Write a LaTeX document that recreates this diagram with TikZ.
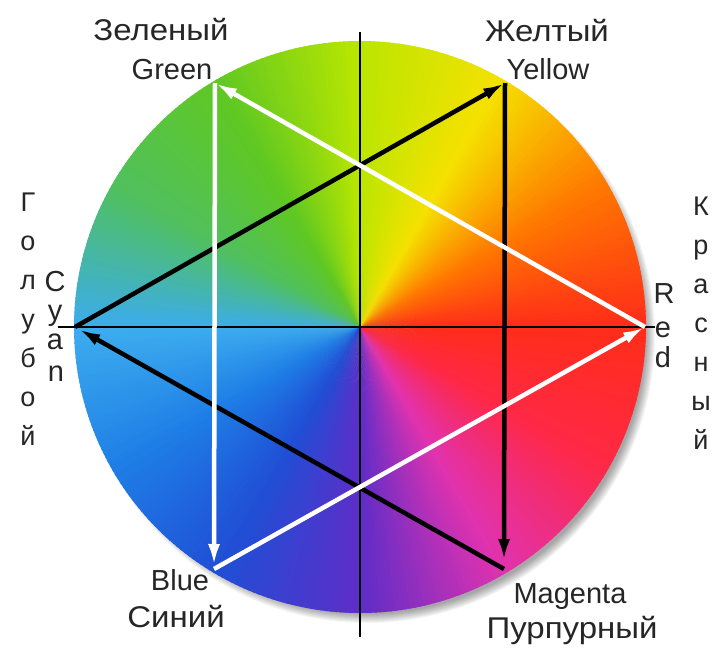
\documentclass[tikz,border=0pt]{standalone}
\usepackage{fontspec}
\setmainfont{Liberation Sans}
\newfontfamily\rufont[FakeStretch=1.1]{Liberation Sans}
\usetikzlibrary{arrows.meta}
\definecolor{w0}{RGB}{255,45,25}
\definecolor{w1}{RGB}{255,120,0}
\definecolor{w2}{RGB}{245,225,0}
\definecolor{w3}{RGB}{185,230,0}
\definecolor{w4}{RGB}{95,200,35}
\definecolor{w5}{RGB}{80,192,95}
\definecolor{w6}{RGB}{60,172,238}
\definecolor{w7}{RGB}{30,125,230}
\definecolor{w8}{RGB}{32,78,213}
\definecolor{w9}{RGB}{95,45,200}
\definecolor{w10}{RGB}{225,50,175}
\definecolor{w11}{RGB}{255,40,70}
\definecolor{w12}{RGB}{255,45,25}
\tikzset{
  ru/.style={font=\rufont\fontsize{30}{30}\selectfont, inner sep=0pt, anchor=base, text=black!85},
  en/.style={font=\fontsize{29}{29}\selectfont, inner sep=0pt, anchor=base, text=black!85},
  vl/.style={font=\fontsize{27}{27}\selectfont, inner sep=0pt, anchor=base, text=black!85},
  ve/.style={font=\fontsize{29}{29}\selectfont, inner sep=0pt, anchor=base, text=black!85},
  axis/.style={black, line width=1.6pt},
  blackarrow/.style={black, line width=4.5pt, -{Latex[length=22pt,width=12pt]}},
  whitearrow/.style={white, line width=4.5pt, -{Latex[length=22pt,width=12pt]}},
}
\begin{document}
\begin{tikzpicture}[x=1pt,y=-1pt]
\useasboundingbox[fill=white] (0,0) rectangle (715,648);
% shadow
\foreach \i in {0,...,9} {
  \fill[black,opacity=0.04] (367,335) circle[radius=279+\i];
}
% colour wheel
\coordinate (C) at (360,327);
\foreach \s [evaluate=\s as \n using int(\s+1)] in {0,...,11} {
  \foreach \k in {0,...,29} {
    \pgfmathtruncatemacro\p{100-\k*100/30}
    \pgfmathsetmacro\a{\s*30+\k}
    \colorlet{wc}{w\s!\p!w\n}
    \fill[wc] (C) -- ++(-\a:286) arc[start angle=-\a, end angle=-\a-1.4, radius=286] -- cycle;
  }
}
% axes
\coordinate (hl) at (58,327);
\coordinate (hr) at (655,327);
\coordinate (vt) at (360,32);
\coordinate (vb) at (360,637);
\draw[black, line width=1.2pt] (hl) -- (hr);
\draw[axis] (vt) -- (vb);
% vertices
\coordinate (G) at (215,83);
\coordinate (Y) at (505,83);
\coordinate (R) at (645,327);
\coordinate (M) at (504,569);
\coordinate (B) at (214,569);
\coordinate (Cy) at (75,327);
% black triangle
\draw[blackarrow] (Cy) -- (Y);
\draw[blackarrow, shorten >=8pt] (Y) -- (M);
\draw[blackarrow, shorten >=4pt] (M) -- (Cy);
% white triangle
\draw[whitearrow] (R) -- (G);
\draw[whitearrow, shorten >=3pt] (G) -- (B);
\draw[whitearrow] (B) -- (R);
% labels
\node[ru] (zel) at (161,40) {Зеленый};
\node[en] (green) at (172,79) {Green};
\node[ru] (zhel) at (547,41) {Желтый};
\node[en] (yellow) at (548,79) {Yellow};
\node[en] (blue) at (180,590) {Blue};
\node[ru] (sin) at (176,627) {Синий};
\node[en] (mag) at (570,603) {Magenta};
\node[ru] (pur) at (572,638) {Пурпурный};
% Голубой
\node[vl] (g1) at (28,211) {Г};
\node[vl] (g2) at (28,250) {о};
\node[vl] (g3) at (28,289) {л};
\node[vl] (g4) at (28,328) {у};
\node[vl] (g5) at (28,367) {б};
\node[vl] (g6) at (28,406) {о};
\node[vl] (g7) at (28,445) {й};
% Cyan
\node[ve] (c1) at (55,291) {C};
\node[ve] (c2) at (55,320) {y};
\node[ve] (c3) at (55,349) {a};
\node[ve] (c4) at (56,381) {n};
% Red
\node[ve] (r1) at (664,303) {R};
\node[ve] (r2) at (663,337) {e};
\node[ve] (r3) at (663,367) {d};
% Красный
\node[vl] (k1) at (701,215) {К};
\node[vl] (k2) at (701,254) {р};
\node[vl] (k3) at (701,293) {а};
\node[vl] (k4) at (701,332) {с};
\node[vl] (k5) at (701,371) {н};
\node[vl] (k6) at (701,410) {ы};
\node[vl] (k7) at (701,449) {й};
\end{tikzpicture}
\end{document}
